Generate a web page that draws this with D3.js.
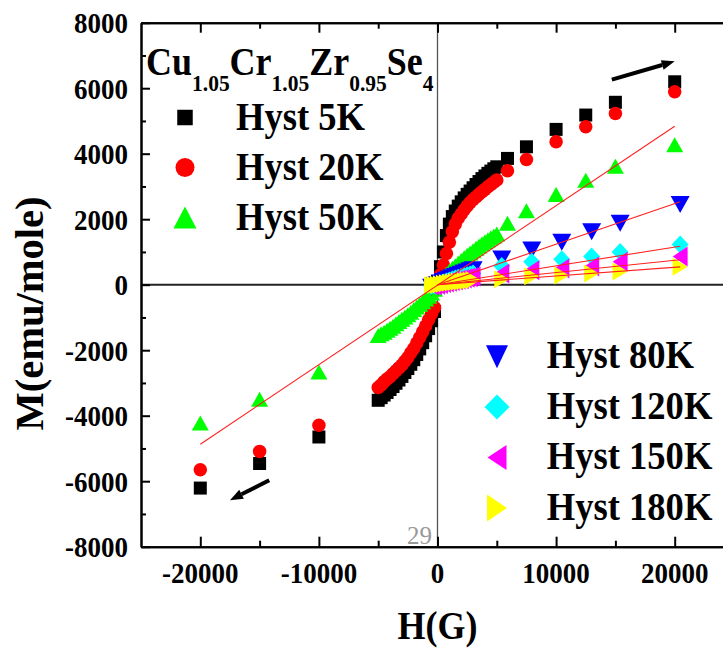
<!DOCTYPE html>
<html lang="en">
<head>
<meta charset="UTF-8">
<title>Hysteresis M vs H</title>
<script src="https://d3js.org/d3.v7.min.js"></script>
<style>
  body { margin: 0; background: #fff; }
  svg { display: block; }
  text { font-family: "Liberation Serif", "Times New Roman", "DejaVu Serif", serif; font-weight: bold; fill: #000; }
</style>
</head>
<body>
<svg width="723" height="648"></svg>
<script>
// ---- data ----
// field (G) for the 5K / 20K / 50K loops
var hLoop = [-20000, -15000, -10000,
  -5000, -4750, -4500, -4250, -4000, -3750, -3500, -3250, -3000, -2750, -2500, -2250, -2000, -1750, -1500, -1250, -1000, -750, -500, -250,
  0, 250, 500, 750, 1000, 1250, 1500, 1750, 2000, 2250, 2500, 2750, 3000, 3250, 3500, 3750, 4000, 4250, 4500, 4750, 5000,
  5900, 7500, 10000, 12500, 15000, 20000];

var m5K = [-6210, -5460, -4650,
  -3530, -3450, -3370, -3290, -3200, -3110, -3010, -2910, -2800, -2680, -2560, -2430, -2290, -2130, -1960, -1770, -1560, -1340, -1100, -820,
  100, 550, 1000, 1500, 1850, 2080, 2250, 2400, 2530, 2650, 2760, 2860, 2960, 3060, 3150, 3240, 3320, 3400, 3470, 3540, 3600,
  3856, 4210, 4742, 5180, 5570, 6196];

var m20K = [-5650, -5090, -4290,
  -3140, -3060, -2960, -2880, -2810, -2720, -2630, -2540, -2450, -2340, -2220, -2080, -1950, -1780, -1610, -1440, -1260, -1070, -890, -700,
  0, 300, 600, 950, 1300, 1620, 1850, 2030, 2160, 2290, 2400, 2510, 2600, 2680, 2760, 2840, 2910, 2990, 3060, 3130, 3200,
  3477, 3825, 4363, 4820, 5230, 5890];

var m50K = [-4220, -3500, -2665,
  -1550, -1500, -1450, -1390, -1330, -1265, -1195, -1125, -1055, -985, -915, -840, -760, -680, -600, -520, -440, -350, -250, -140,
  0, 120, 230, 330, 420, 500, 580, 660, 740, 820, 900, 970, 1040, 1110, 1180, 1250, 1310, 1370, 1430, 1490, 1550,
  1880, 2255, 2756, 3193, 3620, 4270];

// field (G) for the 80K .. 180K curves
var hVirgin = [-500, -250, 0, 250, 500, 750, 1000, 1250, 1500, 1750, 2000, 2250, 2500, 2750, 3000,
  5420, 7950, 10480, 13000, 15400, 20460];

var m80K  = [-80, -40, 0, 50, 95, 135, 175, 215, 250, 285, 320, 355, 390, 425, 460, 785, 1060, 1300, 1613, 1880, 2450];
var m120K = [-40, -20, 0, 35, 70, 100, 130, 160, 190, 215, 240, 265, 290, 315, 340, 570, 697, 775, 860, 1002, 1230];
var m150K = [-30, -15, 0, 25, 50, 70, 90, 110, 130, 150, 170, 190, 210, 230, 250, 340, 440, 495, 555, 697, 860];
var m180K = [-20, -10, 0, 15, 30, 45, 60, 70, 80, 90, 100, 110, 120, 130, 140, 170, 260, 280, 340, 400, 550];

// linear fits (red lines)
var fitH50 = [-20000, 20000];
var fitM50 = [-4870, 4840];
var fitH = [0, 20460];
var fitM80 = [0, 2530];
var fitM120 = [0, 1176];
var fitM150 = [0, 760];
var fitM180 = [0, 544];

var xTicks = [-20000, -10000, 0, 10000, 20000];
var xMinor = [-15000, -5000, 5000, 15000];
var yTicks = [-8000, -6000, -4000, -2000, 0, 2000, 4000, 6000, 8000];
var yMinor = [-7000, -5000, -3000, -1000, 1000, 3000, 5000, 7000];

var legendTop = ["Hyst 5K", "Hyst 20K", "Hyst 50K"];
var legendBottom = ["Hyst 80K", "Hyst 120K", "Hyst 150K", "Hyst 180K"];
var formula = [["Cu", "1.05"], ["Cr", "1.05"], ["Zr", "0.95"], ["Se", "4"]];

// ---- drawing ----
var svg = d3.select("svg");
var x = d3.scaleLinear().domain([-25000, 25000]).range([141, 734]);
var y = d3.scaleLinear().domain([-8000, 8000]).range([546.7, 22.7]);
var SY = 1.12; // text in the picture is a little stretched vertically

function shapePath(type, w, h) {
  var a = w / 2, b = h / 2;
  if (type === "square") return "M" + (-a) + "," + (-b) + "H" + a + "V" + b + "H" + (-a) + "Z";
  if (type === "circle") return "M" + a + ",0A" + a + "," + b + " 0 1,1 " + (-a) + ",0A" + a + "," + b + " 0 1,1 " + a + ",0Z";
  if (type === "up") return "M0," + (-b) + "L" + a + "," + b + "L" + (-a) + "," + b + "Z";
  if (type === "down") return "M" + (-a) + "," + (-b) + "L" + a + "," + (-b) + "L0," + b + "Z";
  if (type === "diamond") return "M0," + (-b) + "L" + a + ",0L0," + b + "L" + (-a) + ",0Z";
  if (type === "left") return "M" + (-a) + ",0L" + a + "," + (-b) + "L" + a + "," + b + "Z";
  if (type === "right") return "M" + (-a) + "," + (-b) + "L" + a + ",0L" + (-a) + "," + b + "Z";
}

function label(g, px, py, str, size, anchor) {
  return g.append("text")
    .attr("transform", "translate(" + px + "," + py + ") scale(1," + SY + ")")
    .attr("text-anchor", anchor || "start")
    .attr("font-size", size)
    .text(str);
}

var series = [
  {h: hLoop, m: m5K, shape: "square", color: "#000000", w: 13, hh: 13, lw: 15.5, lh: 15.5},
  {h: hLoop, m: m20K, shape: "circle", color: "#ff0000", w: 13.5, hh: 13.5, lw: 19, lh: 19},
  {h: hLoop, m: m50K, shape: "up", color: "#00ff00", w: 17, hh: 15, lw: 23, lh: 22},
  {h: hVirgin, m: m80K, shape: "down", color: "#0000ff", w: 19, hh: 17, lw: 22, lh: 23},
  {h: hVirgin, m: m120K, shape: "diamond", color: "#00ffff", w: 17, hh: 18, lw: 25, lh: 25},
  {h: hVirgin, m: m150K, shape: "left", color: "#ff00ff", w: 15, hh: 20, lw: 19, lh: 25},
  {h: hVirgin, m: m180K, shape: "right", color: "#ffff00", w: 15, hh: 18, lw: 20, lh: 27}
];

// zero lines
svg.append("line")
  .attr("x1", x(0)).attr("x2", x(0)).attr("y1", y(8000)).attr("y2", y(-8000))
  .attr("stroke", "#555").attr("stroke-width", 1.3);
svg.append("line")
  .attr("x1", x(-25000)).attr("x2", x(25000)).attr("y1", y(0)).attr("y2", y(0))
  .attr("stroke", "#222").attr("stroke-width", 2);

// markers
series.forEach(function(s) {
  var pts = s.h.map(function(h, i) { return [h, s.m[i]]; });
  svg.append("g").selectAll("path")
    .data(pts)
    .enter().append("path")
    .attr("transform", function(d) { return "translate(" + x(d[0]) + "," + y(d[1]) + ")"; })
    .attr("d", shapePath(s.shape, s.w, s.hh))
    .attr("fill", s.color);
});

// fit lines
var fits = [[fitH50, fitM50], [fitH, fitM80], [fitH, fitM120], [fitH, fitM150], [fitH, fitM180]];
fits.forEach(function(f) {
  svg.append("line")
    .attr("x1", x(f[0][0])).attr("y1", y(f[1][0]))
    .attr("x2", x(f[0][1])).attr("y2", y(f[1][1]))
    .attr("stroke", "#ff2020").attr("stroke-width", 1.1);
});

// axes (ticks inward)
function styleAxis(g) {
  g.selectAll("path.domain").attr("stroke", "#000").attr("stroke-width", 2);
  g.selectAll(".tick line").attr("stroke", "#000").attr("stroke-width", 2);
  g.selectAll(".tick text").remove();
}
svg.append("g").attr("transform", "translate(0," + y(-8000) + ")")
  .call(d3.axisBottom(x).tickValues(xTicks).tickSizeInner(-10).tickSizeOuter(0)).call(styleAxis);
svg.append("g").attr("transform", "translate(0," + y(-8000) + ")")
  .call(d3.axisBottom(x).tickValues(xMinor).tickSizeInner(-6).tickSizeOuter(0)).call(styleAxis);
svg.append("g").attr("transform", "translate(0," + y(8000) + ")")
  .call(d3.axisTop(x).tickValues(xTicks).tickSizeInner(-10).tickSizeOuter(0)).call(styleAxis);
svg.append("g").attr("transform", "translate(0," + y(8000) + ")")
  .call(d3.axisTop(x).tickValues(xMinor).tickSizeInner(-6).tickSizeOuter(0)).call(styleAxis);
svg.append("g").attr("transform", "translate(" + x(-25000) + ",0)")
  .call(d3.axisLeft(y).tickValues(yTicks).tickSizeInner(-9).tickSizeOuter(0)).call(styleAxis);
svg.append("g").attr("transform", "translate(" + x(-25000) + ",0)")
  .call(d3.axisLeft(y).tickValues(yMinor).tickSizeInner(-5).tickSizeOuter(0)).call(styleAxis);

// tick labels
xTicks.forEach(function(v) { label(svg, x(v), 583, String(v), 27, "middle"); });
yTicks.forEach(function(v) { label(svg, 128, y(v) + 10.3, String(v), 27, "end"); });

// axis titles
svg.append("text")
  .attr("transform", "translate(43,313.5) rotate(-90) scale(1.04,1)")
  .attr("text-anchor", "middle").attr("font-size", 39)
  .text("M(emu/mole)");
label(svg, x(0), 639, "H(G)", 36, "middle");

// compound title with subscripts
var t = svg.append("text")
  .attr("transform", "translate(146,75) scale(1," + SY + ")")
  .attr("font-size", 36);
formula.forEach(function(p, i) {
  t.append("tspan").attr("font-size", 36).attr("dy", i === 0 ? 0 : -14.5).text(p[0]);
  t.append("tspan").attr("font-size", 21.5).attr("dy", 14.5).text(p[1]);
});

// legends
legendTop.forEach(function(name, i) {
  var s = series[i];
  svg.append("path")
    .attr("transform", "translate(185," + (117.5 + 50 * i) + ")")
    .attr("d", shapePath(s.shape, s.lw, s.lh)).attr("fill", s.color);
  label(svg, 236, 130 + 50 * i, name, 36.6, "start");
});
legendBottom.forEach(function(name, i) {
  var s = series[i + 3];
  svg.append("path")
    .attr("transform", "translate(497," + (356.7 + 50.4 * i) + ")")
    .attr("d", shapePath(s.shape, s.lw, s.lh)).attr("fill", s.color);
  label(svg, 546.7, 368.3 + 50.4 * i, name, 36.6, "start");
});

// sweep-direction arrows
function arrow(h0, m0, h1, m1) {
  var x0 = x(h0), y0 = y(m0), x1 = x(h1), y1 = y(m1);
  var ang = Math.atan2(y1 - y0, x1 - x0), L = 13, W = 5;
  var bx = x1 - L * Math.cos(ang), by = y1 - L * Math.sin(ang);
  svg.append("line").attr("x1", x0).attr("y1", y0).attr("x2", bx).attr("y2", by)
    .attr("stroke", "#000").attr("stroke-width", 4);
  svg.append("path")
    .attr("d", "M" + x1 + "," + y1 +
      "L" + (bx + W * Math.sin(ang)) + "," + (by - W * Math.cos(ang)) +
      "L" + (bx - W * Math.sin(ang)) + "," + (by + W * Math.cos(ang)) + "Z")
    .attr("fill", "#000");
}
arrow(14700, 6260, 20000, 6820);
arrow(-14190, -5970, -17500, -6580);

// page number from the source scan
svg.append("text").attr("x", 432).attr("y", 544).attr("text-anchor", "end")
  .attr("font-size", 25).style("font-weight", "normal")
  .style("fill", "#999").text("29");
</script>
</body>
</html>
